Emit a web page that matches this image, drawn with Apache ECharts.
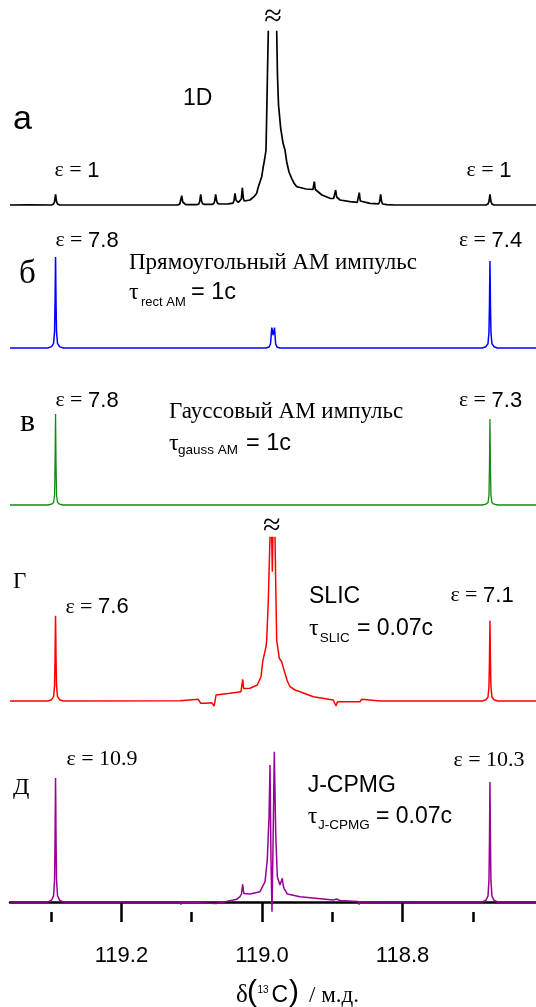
<!DOCTYPE html>
<html>
<head>
<meta charset="utf-8">
<script src="https://cdn.jsdelivr.net/npm/echarts@6/dist/echarts.min.js"></script>
<style>
  html, body { margin: 0; background: #fff; }
  #chart { width: 536px; height: 1007px; }
</style>
</head>
<body>
<div id="chart"></div>
<script>
// chemical shift range (ppm) and axis ticks
const ppmMin = 118.6102;
const ppmMax = 119.3585;
const majorTicks = [119.2, 119.0, 118.8];
const minorTicks = [119.3, 119.1, 118.9, 118.7];

// spectra: [ppm, intensity]; '-' breaks the line at the cut-off peaks
const spec1D = [
  [119.3585,0],[119.3300,0.2],[119.2994,0],[119.2965,1],[119.2951,3.5],[119.2937,10.7],[119.2923,3.5],[119.2909,1],[119.2880,0],
  [119.2361,0],[119.2347,1.2],[119.2333,0],
  [119.1199,0],[119.1170,1],[119.1156,3],[119.1142,9.3],[119.1128,3],[119.1114,1],[119.1085,0.3],
  [119.0929,0.3],[119.0900,1],[119.0886,3.5],[119.0872,10.7],[119.0858,3.5],[119.0844,1.2],[119.0815,0.6],
  [119.0716,0.6],[119.0687,1.3],[119.0673,4],[119.0659,10.7],[119.0645,4],[119.0631,1.6],[119.0602,1],
  [119.0479,1.2],[119.0413,1.8],[119.0398,4.5],[119.0384,11.7],[119.0370,5],[119.0356,3],[119.0337,2.5],
  [119.0294,6],[119.0280,17.3],[119.0266,7],[119.0252,4],[119.0242,3.8],[119.0171,5],[119.0114,8.3],
  [119.0075,11.7],[119.0057,17],[119.0028,23.3],[119.0004,28.3],[118.9982,38.3],[118.9964,45],[118.9943,55],
  [118.9929,105],[118.9920,140],[118.9910,174.3],[118.9850,'-'],
  [118.9791,174.3],[118.9780,130],[118.9765,100],[118.9734,76.7],[118.9701,62],[118.9673,55],[118.9649,43.3],
  [118.9616,33],[118.9578,26.7],[118.9545,22],[118.9506,18.3],[118.9459,17.5],[118.9374,16],[118.9275,15.5],
  [118.9270,16.5],[118.9256,23.3],[118.9242,15.5],[118.9232,14],[118.9147,10],[118.9033,6.7],
  [118.8981,6.5],[118.8966,8.5],[118.8952,15],[118.8938,8],[118.8924,6],[118.8890,5],[118.8748,3.3],
  [118.8645,2.6],[118.8630,4.5],[118.8616,12.3],[118.8602,4],[118.8588,2.2],[118.8464,1.7],
  [118.8341,1.2],[118.8326,3.5],[118.8312,10.7],[118.8298,3.3],[118.8284,1],[118.8222,0.4],[118.8108,0],
  [118.7340,0],[118.7326,1],[118.7312,0],
  [118.6814,0],[118.6785,1],[118.6771,3.5],[118.6757,10.7],[118.6743,3.5],[118.6729,1],[118.6700,0],
  [118.6102,0]
];

const specRect = [
  [119.3585,0],
  [119.3047,0],[119.2994,1.4],[119.2965,4.6],[119.2951,16.4],[119.2944,45.5],[119.2937,91],[119.2930,45.5],[119.2923,16.4],[119.2909,4.6],[119.2880,1.4],[119.2827,0],
  [118.9943,0],[118.9900,1],[118.9879,4],[118.9861,20.4],[118.9842,13],[118.9822,20.4],[118.9806,4],[118.9787,1],[118.9744,0],
  [118.6867,0],[118.6814,1.3],[118.6785,4.4],[118.6771,15.7],[118.6764,43.5],[118.6757,87],[118.6750,43.5],[118.6743,15.7],[118.6729,4.4],[118.6700,1.3],[118.6647,0],
  [118.6102,0]
];

const specGauss = [
  [119.3585,0],
  [119.3047,0],[119.2994,0.8],[119.2965,2.5],[119.2951,10],[119.2944,40],[119.2937,91],[119.2930,40],[119.2923,10],[119.2909,2.5],[119.2880,0.8],[119.2827,0],
  [118.6867,0],[118.6814,0.8],[118.6785,2.4],[118.6771,9.5],[118.6764,38],[118.6757,86],[118.6750,38],[118.6743,9.5],[118.6729,2.4],[118.6700,0.8],[118.6647,0],
  [118.6102,0]
];

const specSlic = [
  [119.3585,0],
  [119.3047,0],[119.2994,1.3],[119.2965,4.3],[119.2951,15.4],[119.2944,42.7],[119.2937,85.3],[119.2930,42.7],[119.2923,15.4],[119.2909,4.3],[119.2880,1.3],[119.2827,0],
  [119.1166,0.3],[119.0906,1.7],[119.0889,1.5],[119.0872,-2.3],[119.0811,-2.3],[119.0716,-1.7],[119.0680,-5],[119.0666,1],[119.0654,6],
  [119.0455,7.7],[119.0299,9.3],[119.0289,11],[119.0275,21.7],[119.0261,12.5],[119.0252,11.7],[119.0171,12.7],[119.0067,16],
  [119.0014,24.3],[118.9990,39.3],[118.9967,41],[118.9943,54.3],[118.9933,61],[118.9910,101],[118.9886,164.3],[118.9875,'-'],
  [118.9862,164.3],[118.9853,129.3],[118.9845,164.3],[118.9835,'-'],
  [118.9815,164.3],[118.9801,101],[118.9791,61],[118.9754,42.7],[118.9730,41],[118.9720,39.3],[118.9687,31],
  [118.9640,20],[118.9602,14.3],[118.9530,11],[118.9459,9.3],[118.9270,4.3],[118.8986,1],[118.8962,1],[118.8947,-5],[118.8926,-0.7],
  [118.8606,-0.7],[118.8582,1.7],[118.8321,0],
  [118.6867,0],[118.6814,1.2],[118.6785,4],[118.6771,14.5],[118.6764,40],[118.6757,80.3],[118.6750,40],[118.6743,14.5],[118.6729,4],[118.6700,1.2],[118.6647,0],
  [118.6102,0]
];

const specCpmg = [
  [119.3585,0],
  [119.3047,0],[119.2994,1.9],[119.2965,6.2],[119.2951,22.3],[119.2944,62],[119.2937,124],[119.2930,62],[119.2923,22.3],[119.2909,6.2],[119.2880,1.9],[119.2827,0],
  [119.1166,0],[119.1152,-2.5],[119.1138,0],[119.0654,-1.5],[119.0640,0],
  [119.0512,0.5],[119.0408,2],[119.0384,4],[119.0360,2.7],[119.0313,5.3],[119.0292,8],[119.0275,17.7],[119.0259,8.5],
  [119.0246,7],[119.0171,8],[119.0028,10.3],[118.9957,20.3],[118.9925,42],[118.9900,85.3],[118.9886,137],
  [118.9872,42],[118.9858,-9.7],[118.9844,52],[118.9825,150.3],[118.9805,68.7],[118.9782,25.3],[118.9744,17],
  [118.9723,19],[118.9711,23.7],[118.9699,17],[118.9687,13.7],[118.9640,8],[118.9459,5.3],[118.8986,2],
  [118.8937,3],[118.8890,1.5],[118.8634,0.5],[118.8620,-2.5],[118.8606,0.3],
  [118.6867,0],[118.6814,1.8],[118.6785,6],[118.6771,21.6],[118.6764,60],[118.6757,120],[118.6750,60],[118.6743,21.6],[118.6729,6],[118.6700,1.8],[118.6647,0],
  [118.6102,0]
];

const SERIF = '"Liberation Serif", "Times New Roman", serif';
const SANS = '"Liberation Sans", Arial, sans-serif';

const spectra = [
  { data: spec1D, color: '#000000', width: 1.7, top: 15 },
  { data: specRect, color: '#0000ff', width: 1.5, top: 158 },
  { data: specGauss, color: '#118a11', width: 1.3, top: 315 },
  { data: specSlic, color: '#ff0000', width: 1.5, top: 511 },
  { data: specCpmg, color: '#990099', width: 1.5, top: 712 }
];

const chart = echarts.init(document.getElementById('chart'), null, { renderer: 'canvas' });

const grids = [], xAxes = [], yAxes = [], series = [];
spectra.forEach(function (s, i) {
  grids.push({ left: 10, right: 0, top: s.top, height: 200 });
  xAxes.push({
    type: 'value', gridIndex: i, min: ppmMin, max: ppmMax, inverse: true,
    show: i === 4, position: 'bottom',
    axisLine: { lineStyle: { color: '#000', width: 2.5 } },
    axisTick: { customValues: majorTicks, length: 20, lineStyle: { color: '#000', width: 2.5 } },
    axisLabel: {
      customValues: majorTicks, margin: 33, color: '#000', fontSize: 22, fontFamily: SANS,
      formatter: function (v) { return v.toFixed(1); }
    },
    splitLine: { show: false }
  });
  yAxes.push({ type: 'value', gridIndex: i, min: -10, max: 190, show: false });
  series.push({
    type: 'line', xAxisIndex: i, yAxisIndex: i, data: s.data,
    showSymbol: false, symbol: 'none', smooth: false,
    lineStyle: { color: s.color, width: s.width }
  });
});
// minor ticks
xAxes.push({
  type: 'value', gridIndex: 4, min: ppmMin, max: ppmMax, inverse: true, position: 'bottom',
  axisLine: { show: false },
  axisTick: { customValues: minorTicks, length: 10, lineStyle: { color: '#000', width: 2.5 } },
  axisLabel: { show: false },
  splitLine: { show: false }
});

function txt(x, y, text, font, align) {
  return {
    type: 'text', x: x, y: y, silent: true,
    style: { text: text, font: font, fill: '#000', align: align || 'left', textAlign: align || 'left',
      verticalAlign: 'middle', textVerticalAlign: 'middle' }
  };
}
function eps(x, y, num, numFont) {
  return {
    type: 'text', x: x, y: y, silent: true,
    style: {
      text: '{s|ε = }{n|' + num + '}', fill: '#000',
      align: 'center', textAlign: 'center', verticalAlign: 'middle', textVerticalAlign: 'middle',
      rich: {
        s: { fontFamily: SERIF, fontSize: 22, fill: '#000' },
        n: { fontFamily: numFont || SANS, fontSize: 22, fill: '#000' }
      }
    }
  };
}

const graphics = [
  // panel a
  txt(13, 120, 'a', '34px ' + SANS),
  txt(183, 99, '1D', '23px ' + SANS),
  txt(273, 18, '≈', '32px ' + SERIF, 'center'),
  eps(77, 170.5, '1'), eps(489, 170.5, '1'),
  // panel б
  txt(19, 274, 'б', '33px ' + SERIF),
  eps(87, 240.5, '7.8'), eps(490.5, 240.5, '7.4'),
  txt(129, 262.5, 'Прямоугольный АМ импульс', '23px ' + SERIF),
  txt(129, 292.8, 'τ', '24px ' + SERIF),
  txt(141, 302.6, 'rect AM', '13px ' + SANS),
  txt(191, 292.5, '= 1c', '23.5px ' + SANS),
  // panel в
  txt(20, 422.5, 'в', '32px ' + SERIF),
  eps(87, 400.5, '7.8'), eps(490.5, 400.5, '7.3'),
  txt(169, 412.4, 'Гауссовый АМ импульс', '23px ' + SERIF),
  txt(169, 444, 'τ', '24px ' + SERIF),
  txt(178, 450.3, 'gauss AM', '13.5px ' + SANS),
  txt(246, 444, '= 1c', '23.5px ' + SANS),
  // panel г
  txt(13, 582.4, 'Г', '23px ' + SERIF),
  txt(271.7, 526.7, '≈', '32px ' + SERIF, 'center'),
  eps(97, 607.3, '7.6'), eps(482, 595.5, '7.1'),
  txt(309, 597, 'SLIC', '23px ' + SANS),
  txt(309, 629, 'τ', '24px ' + SERIF),
  txt(319.7, 638.6, 'SLIC', '13.5px ' + SANS),
  txt(357, 628.6, '= 0.07c', '23px ' + SANS),
  // panel д
  txt(13, 788, 'Д', '24px ' + SERIF),
  eps(102, 759.4, '10.9', SERIF), eps(489, 760, '10.3', SERIF),
  txt(307.7, 785.3, 'J-CPMG', '23px ' + SANS),
  txt(307.7, 817, 'τ', '24px ' + SERIF),
  txt(318, 825.3, 'J-CPMG', '13.5px ' + SANS),
  txt(376, 817, '= 0.07c', '23px ' + SANS),
  // axis name
  txt(236, 995, 'δ', '25px ' + SERIF),
  txt(247, 992.5, '(', '30px ' + SANS),
  txt(257.5, 989.8, '13', '10px ' + SANS),
  txt(271.5, 995.3, 'C', '23px ' + SANS),
  txt(289, 992.5, ')', '30px ' + SANS),
  txt(309, 995.7, '/ м.д.', '23px ' + SERIF)
];

chart.setOption({
  animation: false,
  backgroundColor: '#fff',
  grid: grids,
  xAxis: xAxes,
  yAxis: yAxes,
  series: series,
  graphic: graphics
});
</script>
</body>
</html>
